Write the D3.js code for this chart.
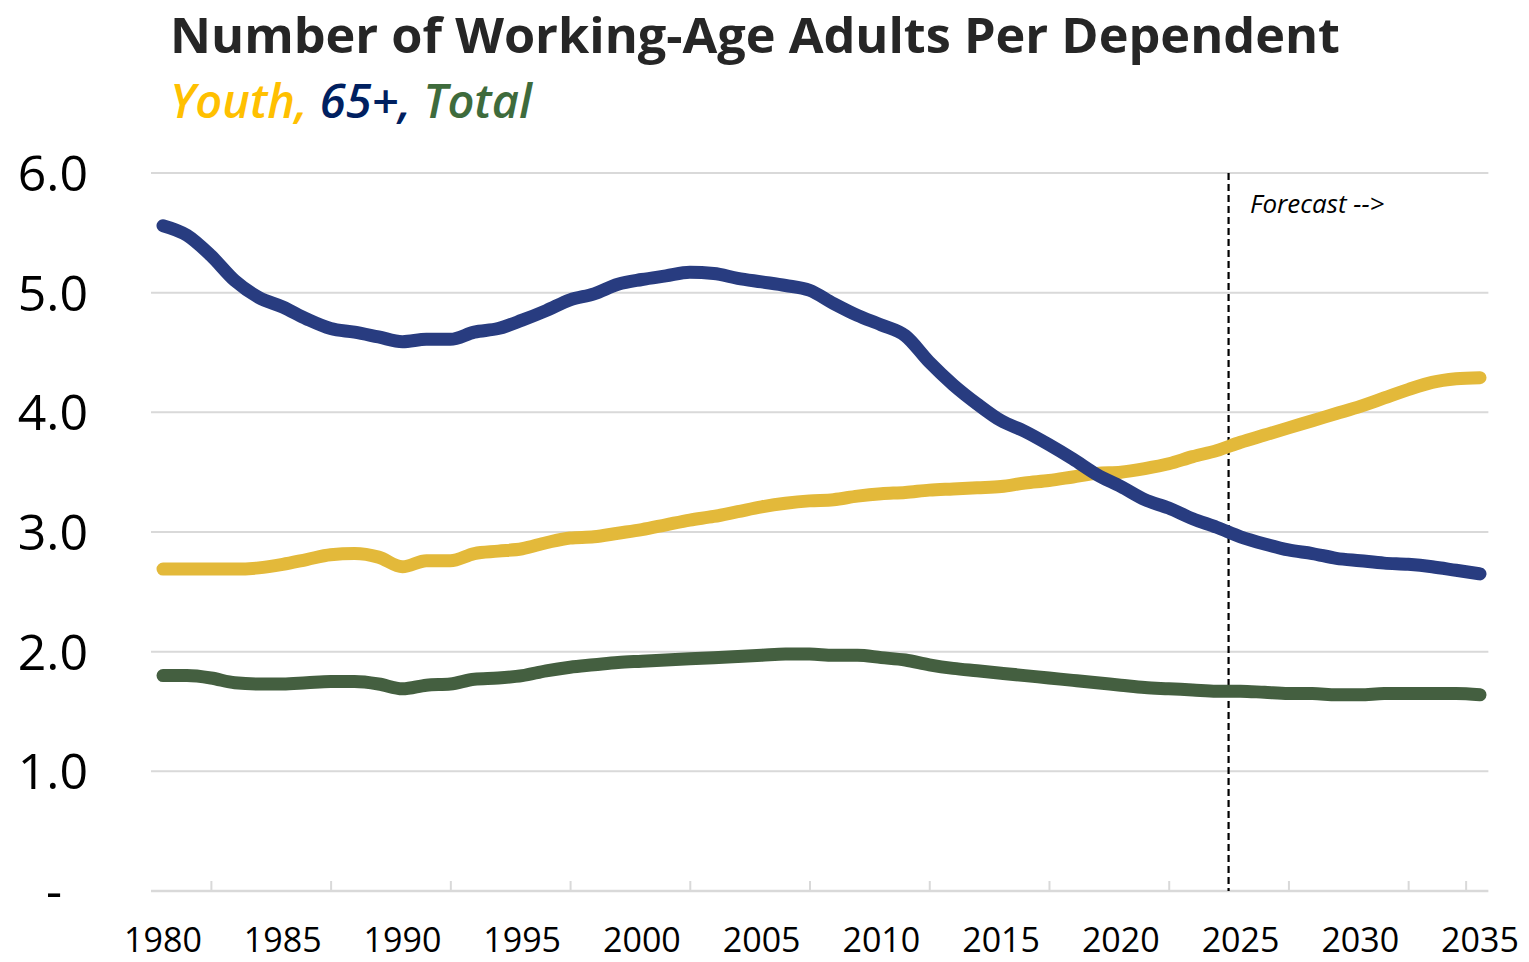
<!DOCTYPE html>
<html>
<head>
<meta charset="utf-8">
<script src="https://cdn.jsdelivr.net/npm/d3@7"></script>
<style>
  body { margin: 0; background: #ffffff; }
  text { font-family: "Open Sans", "Noto Sans", sans-serif; }
</style>
</head>
<body>
<script>

// Years on the category axis
var years = d3.range(1980, 2036);

// Working-age adults per youth dependent
var youth = [2.69, 2.69, 2.69, 2.69, 2.70, 2.73, 2.77, 2.81, 2.82, 2.79,
  2.71, 2.76, 2.76, 2.82, 2.84, 2.86, 2.91, 2.95, 2.96, 2.99,
  3.02, 3.06, 3.10, 3.13, 3.17, 3.21, 3.24, 3.26, 3.27, 3.30,
  3.32, 3.33, 3.35, 3.36, 3.37, 3.38, 3.41, 3.43, 3.46, 3.49,
  3.50, 3.53, 3.57, 3.63, 3.68, 3.75, 3.81, 3.87, 3.93, 3.99,
  4.05, 4.12, 4.19, 4.25, 4.28, 4.29];

// Working-age adults per 65+ dependent
var senior = [5.56, 5.48, 5.31, 5.10, 4.96, 4.88, 4.78, 4.70, 4.67, 4.63,
  4.59, 4.61, 4.61, 4.67, 4.70, 4.77, 4.85, 4.94, 4.99, 5.07,
  5.11, 5.14, 5.17, 5.16, 5.12, 5.09, 5.06, 5.02, 4.91, 4.81,
  4.73, 4.64, 4.42, 4.23, 4.07, 3.93, 3.84, 3.73, 3.61, 3.48,
  3.38, 3.27, 3.20, 3.11, 3.04, 2.96, 2.90, 2.85, 2.82, 2.78,
  2.76, 2.74, 2.73, 2.71, 2.68, 2.65];

// Working-age adults per dependent (all)
var total = [1.80, 1.80, 1.78, 1.74, 1.73, 1.73, 1.74, 1.75, 1.75, 1.73,
  1.69, 1.72, 1.73, 1.77, 1.78, 1.80, 1.84, 1.87, 1.89, 1.91,
  1.92, 1.93, 1.94, 1.95, 1.96, 1.97, 1.98, 1.98, 1.97, 1.97,
  1.95, 1.93, 1.89, 1.86, 1.84, 1.82, 1.80, 1.78, 1.76, 1.74,
  1.72, 1.70, 1.69, 1.68, 1.67, 1.67, 1.66, 1.65, 1.65, 1.64,
  1.64, 1.65, 1.65, 1.65, 1.65, 1.64];

var yTicks = [0, 1, 2, 3, 4, 5, 6];
var xLabelYears = [1980, 1985, 1990, 1995, 2000, 2005, 2010, 2015, 2020, 2025, 2030, 2035];
var xTickYears = [1982, 1987, 1992, 1997, 2002, 2007, 2012, 2017, 2022, 2027, 2032, 2034.4];
var forecastYear = 2024.5;

var series = [
  { name: "Youth", values: youth, color: "#e3b93a" },
  { name: "65+", values: senior, color: "#283c80" },
  { name: "Total", values: total, color: "#445f40" }
];

var svgWidth = 1529;
var svgHeight = 962;

var svg = d3.select("body")
  .append("svg")
  .attr("width", svgWidth)
  .attr("height", svgHeight);

svg.append("rect")
  .attr("width", svgWidth)
  .attr("height", svgHeight)
  .attr("fill", "#ffffff");

// Scales
var xScale = d3.scaleLinear()
  .domain([1980, 2035])
  .range([163, 1480]);

var yScale = d3.scaleLinear()
  .domain([0, 6])
  .range([891, 173]);

// Gridlines
svg.append("g")
  .selectAll("line")
  .data(yTicks.filter(d => d > 0))
  .enter()
  .append("line")
  .attr("x1", xScale(1979.5))
  .attr("x2", xScale(2035.35))
  .attr("y1", d => yScale(d))
  .attr("y2", d => yScale(d))
  .attr("stroke", "#d9d9d9")
  .attr("stroke-width", 2);

// Y axis labels
svg.append("g")
  .selectAll("text")
  .data(yTicks)
  .enter()
  .append("text")
  .attr("x", d => d === 0 ? 62 : 88)
  .attr("y", d => yScale(d) + 18)
  .attr("text-anchor", "end")
  .attr("font-size", 50)
  .attr("fill", "#000000")
  .text(d => d === 0 ? "-" : d3.format(".1f")(d));

// X axis line and tick marks
var xAxis = d3.axisBottom(xScale)
  .tickValues(xTickYears)
  .tickSize(0)
  .tickFormat("");

var xAxisGroup = svg.append("g")
  .attr("transform", `translate(0,${yScale(0)})`)
  .call(xAxis);

xAxisGroup.select(".domain").remove();

xAxisGroup.append("line")
  .attr("x1", xScale(1979.5))
  .attr("x2", xScale(2035.35))
  .attr("stroke", "#d9d9d9")
  .attr("stroke-width", 2.5);

xAxisGroup.selectAll(".tick line")
  .attr("y2", -10)
  .attr("stroke", "#d9d9d9")
  .attr("stroke-width", 2);

// X labels
svg.append("g")
  .selectAll("text")
  .data(xLabelYears)
  .enter()
  .append("text")
  .attr("x", d => xScale(d))
  .attr("y", 952)
  .attr("text-anchor", "middle")
  .attr("font-size", 34)
  .attr("fill", "#000000")
  .text(d => d);

// Forecast divider
svg.append("line")
  .attr("x1", xScale(forecastYear))
  .attr("x2", xScale(forecastYear))
  .attr("y1", yScale(6))
  .attr("y2", yScale(0))
  .attr("stroke", "#000000")
  .attr("stroke-width", 2.2)
  .attr("stroke-dasharray", "7,4");

svg.append("text")
  .attr("x", 1250)
  .attr("y", 213)
  .attr("font-size", 26)
  .attr("font-style", "italic")
  .attr("fill", "#000000")
  .text("Forecast -->");

// Lines
var line = d3.line()
  .x((d, i) => xScale(years[i]))
  .y(d => yScale(d))
  .curve(d3.curveMonotoneX);

svg.append("g")
  .selectAll("path")
  .data(series)
  .enter()
  .append("path")
  .attr("d", d => line(d.values))
  .attr("fill", "none")
  .attr("stroke", d => d.color)
  .attr("stroke-width", 13)
  .attr("stroke-linecap", "round")
  .attr("stroke-linejoin", "round");

// Title
svg.append("text")
  .attr("x", 170)
  .attr("y", 53)
  .attr("font-size", 48)
  .attr("font-weight", 700)
  .attr("fill", "#262626")
  .attr("textLength", 1170)
  .attr("lengthAdjust", "spacingAndGlyphs")
  .text("Number of Working-Age Adults Per Dependent");

// Subtitle in series colours
var subtitle = svg.append("text")
  .attr("x", 170)
  .attr("y", 118)
  .attr("font-size", 47)
  .attr("font-weight", 600)
  .attr("font-style", "italic");

subtitle.append("tspan").attr("fill", "#ffc000").text("Youth, ");
subtitle.append("tspan").attr("fill", "#002060").text("65+, ");
subtitle.append("tspan").attr("fill", "#3e6b3c").text("Total");

</script>
</body>
</html>
